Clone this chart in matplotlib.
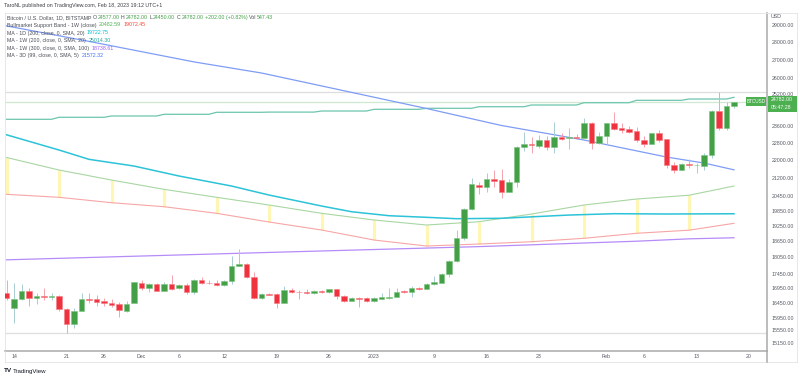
import numpy as np
import pandas as pd
import matplotlib
matplotlib.use("Agg")
import matplotlib.pyplot as plt
from matplotlib.patches import Rectangle
from matplotlib.lines import Line2D
from matplotlib.ticker import NullLocator

plt.rcParams['font.family'] = ['Liberation Sans', 'DejaVu Sans']

# ---------------- data ----------------
dates = pd.date_range("2022-11-13", "2023-02-18", freq="D")

opens = [16770, 16262, 16564, 16857, 16618, 16676, 16652, 16676, 16238, 15740, 16172, 16590, 16574, 16496, 16440, 16395, 16172, 16429,
         17136, 16950, 17078, 16857, 17088, 16938, 17053, 16824, 17218, 17136, 17112, 17053, 17194, 17734, 17795, 17336, 16608, 16757,
         16733, 16429, 16881, 16824, 16824, 16768, 16836, 16813, 16905, 16676, 16518, 16618, 16598,
         16507, 16586, 16618, 16652, 16846, 16802, 16938, 16915, 17088, 17136, 17430, 17898, 18763, 19899, 20912, 20840, 21183, 21128,
         20630, 21040, 22612, 22751, 22658, 22926, 22582, 23050, 23000, 23067, 23034, 23755, 22781,
         23115, 23755, 23512, 23430, 23350, 22940, 22735, 23240, 22956, 21785, 21573, 21850, 21766, 21752, 22214, 24340, 23481, 24577]
highs = [17230, 17112, 17088, 16960, 16768, 16950, 16790, 16700, 16262, 16262, 16768, 16768, 16710, 16598, 16563, 16484, 16518, 17170,
         17229, 17112, 17112, 17170, 17406, 17078, 17112, 17265, 17346, 17229, 17229, 17229, 18089, 18342, 17820, 17502, 16768, 16790,
         16768, 17018, 16938, 16881, 16905, 16881, 16881, 16926, 16926, 16710, 16652, 16652, 16630,
         16630, 16768, 16938, 16938, 16881, 17006, 17000, 17136, 17371, 17467, 17958, 19080, 19964, 21236, 21040, 21440, 21573, 21600,
         21166, 22657, 23317, 23083, 23161, 23115, 23800, 23271, 23481, 23208, 23970, 23790, 23317,
         23755, 24290, 23755, 23590, 23560, 23115, 23271, 23399, 22980, 21930, 21865, 22070, 21897, 22330, 24374, 25306, 24790, 24782]
lows = [16540, 15772, 16540, 16348, 16405, 16540, 16540, 16182, 15452, 15610, 16172, 16450, 16338, 16338, 16316, 15985, 16150, 16429,
        16881, 16802, 16840, 16840, 16881, 16905, 16745, 16733, 17088, 17088, 17030, 17018, 17088, 17720, 17289, 16563, 16586, 16700,
        16285, 16429, 16768, 16563, 16745, 16745, 16768, 16790, 16586, 16473, 16496, 16316, 16484,
        16484, 16563, 16586, 16630, 16768, 16652, 16881, 16905, 17060, 17120, 17346, 17873, 18694, 19874, 20536, 20630, 20840, 20380,
        20605, 20840, 22431, 22340, 22549, 22463, 22340, 22926, 22500, 22972, 23034, 22517, 22735,
        22735, 23399, 23240, 23271, 22848, 22612, 22720, 22848, 21650, 21440, 21573, 21650, 21412, 21573, 22115, 23399, 23380, 24450]
closes = [16600, 16574, 16857, 16618, 16676, 16652, 16676, 16228, 15740, 16182, 16590, 16540, 16473, 16429, 16383, 16195, 16417, 17148,
          16950, 17078, 16857, 17088, 16926, 17042, 16824, 17218, 17124, 17112, 17053, 17194, 17734, 17784, 17324, 16598, 16757, 16722,
          16429, 16881, 16802, 16802, 16768, 16836, 16802, 16905, 16676, 16518, 16618, 16586, 16507,
          16608, 16652, 16652, 16824, 16802, 16938, 16905, 17088, 17170, 17441, 17898, 18788, 19912, 20955, 20840, 21183, 21097, 20630,
          21040, 22612, 22735, 22674, 22926, 22582, 23050, 22980, 23067, 23020, 23755, 22781, 23115,
          23723, 23445, 23414, 23317, 22926, 22750, 23240, 22926, 21785, 21573, 21850, 21766, 21785, 22214, 24340, 23512, 24577, 24782]

# MA - 3D (99)
ma3d_dates = ["2022-11-13", "2022-11-24", "2022-12-08", "2022-12-17", "2023-01-08", "2023-01-18",
              "2023-01-29", "2023-02-09", "2023-02-14", "2023-02-18"]
ma3d_vals = [28938, 28037, 26887, 26285, 24449, 23615, 22926, 22143, 21874, 21572.32]

# MA - 1D (200)
ma1d_dates = ["2022-11-13", "2022-11-20", "2022-11-24", "2022-11-30", "2022-12-06", "2022-12-13", "2022-12-18",
              "2022-12-25", "2022-12-29", "2023-01-03", "2023-01-08", "2023-01-12", "2023-01-18", "2023-01-27",
              "2023-02-02", "2023-02-09", "2023-02-18"]
ma1d_vals = [23171, 22463, 22039, 21740, 21302, 20871, 20491, 20037, 19805, 19644, 19580, 19525, 19541, 19671,
             19725, 19713, 19722.75]

# weekly values (week starts, Sundays)
week_dates = ["2022-11-13", "2022-11-20", "2022-11-27", "2022-12-04", "2022-12-11", "2022-12-18", "2022-12-25",
              "2023-01-01", "2023-01-08", "2023-01-15", "2023-01-22", "2023-01-29", "2023-02-05", "2023-02-12"]
ma1w200_week = [23916, 24014, 24078, 24161, 24260, 24270, 24324, 24409, 24459, 24539, 24624, 24739, 24861, 24927]
ma1w200_now = 25014.30
band_upper = [22122, 21564, 21128, 20731, 20396, 20078, 19741, 19473, 19275, 19405, 19712, 20078, 20325, 20482.59]
band_lower = [20520, 20396, 20173, 20009, 19741, 19394, 19080, 18694, 18466, 18542, 18629, 18759, 18952, 19072.45]
band_upper_now = 20871
band_lower_now = 19342

# MA - 1W (300)
ma1w300_dates = ["2022-11-13", "2022-12-18", "2023-01-15", "2023-02-05", "2023-02-12", "2023-02-18"]
ma1w300_vals = [17953, 18226, 18444, 18648, 18738.61, 18780]

y_ticks = [29000, 28000, 27000, 26000, 25200, 23600, 22800, 22000, 21200, 20450, 19850, 19250,
           18650, 18050, 17450, 16950, 16450, 15950, 15550, 15150]
x_tick_dates = ["2022-11-14", "2022-11-21", "2022-11-26", "2022-12-01", "2022-12-06", "2022-12-12", "2022-12-19",
                "2022-12-26", "2023-01-01", "2023-01-09", "2023-01-16", "2023-01-23", "2023-02-01", "2023-02-06",
                "2023-02-13", "2023-02-20"]
x_tick_labels = ["14", "21", "26", "Dec", "6", "12", "19", "26", "2023", "9", "16", "23", "Feb", "6", "13", "20"]

# ---------------- figure ----------------
W, H = 800, 378
fig = plt.figure(figsize=(W / 100, H / 100), dpi=100)
fig.patch.set_facecolor("white")
AX_L, AX_R, AX_T, AX_B = 4.5, 767.0, 12.5, 351.0
ax = fig.add_axes([AX_L / W, 1 - AX_B / H, (AX_R - AX_L) / W, (AX_B - AX_T) / H])
ax.set_yscale('log')
ax.set_xlim(-0.27, 101.4)
ax.set_ylim(14905, 29740)

t0 = dates[0]
def tnum(ds):
    return np.asarray((pd.to_datetime(ds) - t0).days, dtype=float)

t = tnum(dates)
o = np.array(opens, float); h = np.array(highs, float)
l = np.array(lows, float); c = np.array(closes, float)

GREEN = '#43a047'; GREEN_EDGE = '#7cc47f'; RED = '#f0323f'; RED_EDGE = '#f57c84'
WICK_UP = '#a9cdd3'; WICK_DN = '#f5a3ad'

# high / low / last price lines
ax.axhline(h.max(), color='#dedede', lw=0.9, zorder=1)
ax.axhline(l.min(), color='#dedede', lw=0.9, zorder=1)
ax.axhline(c[-1], color='#cfe8cf', lw=0.9, zorder=1)

# bull market support band
wt = tnum(week_dates)
ax.vlines(wt, band_lower, band_upper, color='#fff5b5', lw=2.3, zorder=1.5)
ax.plot(list(wt) + [t[-1]], band_upper + [band_upper_now], color='#a8d6a2', lw=0.8, zorder=2)
ax.plot(list(wt) + [t[-1]], band_lower + [band_lower_now], color='#f7a6a6', lw=0.8, zorder=2)

# MA 1W 200 (weekly steps)
teal = list(np.repeat(ma1w200_week, 7))[:len(t) - 1] + [ma1w200_now]
ax.plot(t, teal, color='#6cc5ae', lw=0.9, zorder=2)

# MA 1D 200
ax.plot(tnum(ma1d_dates), ma1d_vals, color='#2cc3d8', lw=1.1, zorder=2)
# MA 1W 300
ax.plot(tnum(ma1w300_dates), ma1w300_vals, color='#b58cf8', lw=0.9, zorder=2)
# MA 3D 99
ax.plot(tnum(ma3d_dates), ma3d_vals, color='#7f9cf6', lw=0.9, zorder=2)

# candles
up = c >= o
blo = np.minimum(o, c); bhi = np.maximum(o, c)
bh = np.maximum(bhi - blo, blo * 0.0012)
ax.vlines(t[up], l[up], h[up], color=WICK_UP, lw=0.7, zorder=3)
ax.vlines(t[~up], l[~up], h[~up], color=WICK_DN, lw=0.7, zorder=3)
ax.bar(t[up], bh[up], bottom=blo[up], width=0.68, color=GREEN, edgecolor=GREEN_EDGE, linewidth=0.4, zorder=4)
ax.bar(t[~up], bh[~up], bottom=blo[~up], width=0.68, color=RED, edgecolor=RED_EDGE, linewidth=0.4, zorder=4)

# axes styling
FS = 3.8
TXT = '#555a63'
ax.yaxis.tick_right()
ax.yaxis.set_minor_locator(NullLocator())
ax.set_yticks(y_ticks)
ax.set_yticklabels([f"{v:.2f}" for v in y_ticks])
ax.tick_params(axis='y', length=0, pad=3.2, labelsize=FS, labelcolor=TXT)
ax.set_xticks(tnum(x_tick_dates))
ax.set_xticklabels(x_tick_labels)
ax.tick_params(axis='x', length=0, pad=2.0, labelsize=FS, labelcolor=TXT)
for s in ['left', 'top']:
    ax.spines[s].set_color('#e3e3e3'); ax.spines[s].set_linewidth(0.6)
for s in ['right', 'bottom']:
    ax.spines[s].set_color('#a9a9a9'); ax.spines[s].set_linewidth(1.1)

def fline(x0, y0, x1, y1, color, lw):
    fig.add_artist(Line2D([x0 / W, x1 / W], [1 - y0 / H, 1 - y1 / H], color=color, lw=lw,
                          transform=fig.transFigure))

fline(AX_L, 362, 797, 362, '#e3e3e3', 0.6)
fline(797, AX_T, 797, 362, '#e3e3e3', 0.6)
fline(AX_R, AX_T, 797, AX_T, '#e3e3e3', 0.6)
fline(AX_L, AX_B, AX_L, 362, '#e3e3e3', 0.6)
fline(AX_R, AX_B, AX_R, 362, '#a9a9a9', 1.1)

def frect(x0, y0, x1, y1, color):
    fig.add_artist(Rectangle((x0 / W, 1 - y1 / H), (x1 - x0) / W, (y1 - y0) / H, facecolor=color,
                             edgecolor='none', transform=fig.transFigure, zorder=5))

def ftext(x, y, s, color=TXT, size=FS, **kw):
    return fig.text(x / W, 1 - y / H, s, color=color, fontsize=size, va='center', ha='left', **kw)

# price tags
fig.canvas.draw()
pd_y = ax.transData.transform((0, c[-1]))[1]
py = H - pd_y
frect(768, py - 6, 797, py + 10, '#4caf50')
ftext(771, py - 2, f"{c[-1]:.2f}", color='white', zorder=6)
ftext(771, py + 5.5, "05:47:28", color='white', zorder=6)
frect(745.5, py - 4.5, 766, py + 4.5, '#4caf50')
ftext(747, py, "BTCUSD", color='white', size=3.3, zorder=6)
ftext(771, 16, "USD")

# header + legend
renderer = fig.canvas.get_renderer()
def seq(x, y, segs, gap=1.6):
    for s, col in segs:
        tx = ftext(x, y, s, color=col)
        x += tx.get_window_extent(renderer).width + gap

LBL = '#4a4e57'
VG = '#43a047'
ftext(4.5, 6, "TaroNL published on TradingView.com, Feb 18, 2023 19:12 UTC+1", color='#3a3d45')
seq(7, 17.3, [("Bitcoin / U.S. Dollar, 1D, BITSTAMP", LBL), ("O", LBL), ("24577.00", VG), ("H", LBL), ("24782.00", VG),
              ("L", LBL), ("24450.00", VG), ("C", LBL), ("24782.00", VG), ("+202.00 (+0.82%)", VG),
              ("Vol", LBL), ("547.43", VG)], gap=1.2)
seq(7, 25, [("Bullmarket Support Band - 1W (close)", LBL), ("20482.59", '#4caf50'), ("19072.45", '#f44336')], gap=2.5)
seq(7, 33, [("MA - 1D (200, close, 0, SMA, 20)", LBL), ("19722.75", '#00bcd4')], gap=2.5)
seq(7, 40.7, [("MA - 1W (200, close, 0, SMA, 20)", LBL), ("25014.30", '#26a69a')], gap=2.5)
seq(7, 48.3, [("MA - 1W (300, close, 0, SMA, 100)", LBL), ("18738.61", '#9c5cf5')], gap=2.5)
seq(7, 55.7, [("MA - 3D (99, close, 0, SMA, 5)", LBL), ("21572.32", '#3d6ff5')], gap=2.5)

# footer logo
ftext(4, 371, "TV", color='#131722', size=4.6, weight='bold')
ftext(12.5, 371, "TradingView", color='#131722', size=4.4)

fig.savefig("out.png", dpi=100, facecolor='white')
